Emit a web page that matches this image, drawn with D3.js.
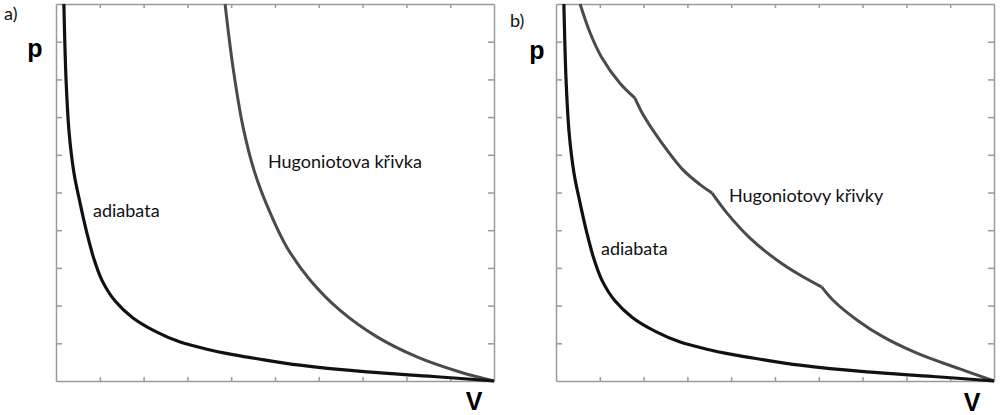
<!DOCTYPE html>
<html>
<head>
    <title>p-V: adiabata a Hugoniotova křivka</title>
    <script src="https://d3js.org/d3.v7.min.js"></script>
    <style>
        body {
            margin: 0;
            background: #fff;
        }
        .frame .domain, .frame line {
            stroke: #9a9a9a;
            stroke-width: 1.5;
        }
        .lbl {
            font-family: Lato, "Open Sans", sans-serif;
            font-size: 18px;
            fill: #111;
        }
        .axlbl {
            font-family: "Liberation Sans", Arial, sans-serif;
            font-weight: bold;
            fill: #000;
        }
    </style>
</head>
<body>
<div id="chart"></div>
<script>
    // values (V and p both on a 0..10 scale)
    const adiabataV = [0.18, 0.23, 0.30, 0.41, 0.55, 0.70, 0.86, 1.05, 1.35, 1.75, 2.28, 2.82, 3.42, 4.04, 4.60, 5.57, 7.10, 8.61, 10];
    const adiabataP = [10, 7.98, 6.58, 5.52, 4.72, 3.95, 3.26, 2.67, 2.12, 1.68, 1.31, 1.04, 0.85, 0.70, 0.59, 0.42, 0.24, 0.12, 0];

    const hugoniotAV = [3.86, 4.04, 4.27, 4.54, 4.89, 5.27, 5.80, 6.48, 7.33, 8.24, 9.22, 10];
    const hugoniotAP = [10, 8.33, 6.74, 5.52, 4.46, 3.55, 2.68, 1.88, 1.17, 0.64, 0.24, 0];

    const hugoniotBV = [0.55, 0.78, 1.04, 1.46, 1.80, 1.99, 2.37, 2.90, 3.29, 3.56, 3.90, 4.43, 5.04, 5.57, 6.07, 6.32, 6.87, 7.47, 8.24, 9.22, 10];
    const hugoniotBP = [10, 9.23, 8.59, 7.90, 7.51, 7.06, 6.39, 5.60, 5.21, 4.99, 4.46, 3.79, 3.21, 2.81, 2.49, 2.15, 1.62, 1.17, 0.74, 0.32, 0];
    const hugoniotBKinks = [4, 9, 14];

    const tickValues = [1, 2, 3, 4, 5, 6, 7, 8, 9];

    const width = 1003, height = 415;
    const plotW = 438, plotTop = 4, plotBottom = 381;

    const svg = d3.select("#chart").append("svg")
        .attr("width", width)
        .attr("height", height);

    svg.append("rect").attr("width", width).attr("height", height).attr("fill", "#fff");

    function zip(vs, ps) {
        return vs.map((v, i) => ({ v: v, p: ps[i] }));
    }

    // split into pieces at the kinks so each piece is smooth on its own
    function splitAt(pts, kinks) {
        const parts = [];
        let start = 0;
        kinks.concat([pts.length - 1]).forEach(k => {
            parts.push(pts.slice(start, k + 1));
            start = k;
        });
        return parts;
    }

    function panel(x0, opts) {
        const x = d3.scaleLinear().domain([0, 10]).range([x0, x0 + plotW]);
        const y = d3.scaleLinear().domain([0, 10]).range([plotBottom, plotTop]);
        const g = svg.append("g");

        const line = d3.line()
            .x(d => x(d.v))
            .y(d => y(d.p))
            .curve(d3.curveCatmullRom.alpha(0.5));

        // frame with inward ticks
        g.append("g").attr("class", "frame")
            .attr("transform", `translate(0,${plotBottom})`)
            .call(d3.axisBottom(x).tickValues(tickValues).tickSizeInner(-4).tickSizeOuter(0).tickFormat(""));
        g.append("g").attr("class", "frame")
            .attr("transform", `translate(0,${plotTop})`)
            .call(d3.axisTop(x).tickValues(tickValues).tickSizeInner(-4).tickSizeOuter(0).tickFormat(""));
        g.append("g").attr("class", "frame")
            .attr("transform", `translate(${x0},0)`)
            .call(d3.axisLeft(y).tickValues(tickValues).tickSizeInner(-6).tickSizeOuter(0).tickFormat(""));
        g.append("g").attr("class", "frame")
            .attr("transform", `translate(${x0 + plotW},0)`)
            .call(d3.axisRight(y).tickValues(tickValues).tickSizeInner(-6).tickSizeOuter(0).tickFormat(""));

        opts.hugoniot.forEach(part => {
            g.append("path")
                .datum(part)
                .attr("fill", "none")
                .attr("stroke", "#4a4a4a")
                .attr("stroke-width", 3)
                .attr("stroke-linejoin", "round")
                .attr("d", line);
        });

        g.append("path")
            .datum(zip(adiabataV, adiabataP))
            .attr("fill", "none")
            .attr("stroke", "#111")
            .attr("stroke-width", 3.2)
            .attr("d", line);

        svg.append("text").attr("class", "lbl")
            .attr("x", opts.tag[0]).attr("y", opts.tag[1]).text(opts.tagText);
        svg.append("text").attr("class", "lbl")
            .attr("x", opts.adiaPos[0]).attr("y", opts.adiaPos[1]).text("adiabata");
        svg.append("text").attr("class", "lbl")
            .attr("x", opts.hugPos[0]).attr("y", opts.hugPos[1]).text(opts.hugText);
        svg.append("text").attr("class", "axlbl")
            .attr("font-size", 25)
            .attr("text-anchor", "middle")
            .attr("x", opts.pPos[0]).attr("y", opts.pPos[1]).text("p");
        svg.append("text").attr("class", "axlbl")
            .attr("font-size", 25)
            .attr("text-anchor", "middle")
            .attr("x", opts.vPos[0]).attr("y", opts.vPos[1]).text("V");
    }

    panel(56, {
        hugoniot: [zip(hugoniotAV, hugoniotAP)],
        tag: [4, 20], tagText: "a)",
        adiaPos: [93, 217],
        hugPos: [268, 168], hugText: "Hugoniotova křivka",
        pPos: [35, 57],
        vPos: [474, 410]
    });

    panel(556, {
        hugoniot: splitAt(zip(hugoniotBV, hugoniotBP), hugoniotBKinks),
        tag: [510, 27], tagText: "b)",
        adiaPos: [601, 255],
        hugPos: [729, 202], hugText: "Hugoniotovy křivky",
        pPos: [537, 59],
        vPos: [972, 411]
    });
</script>
</body>
</html>
